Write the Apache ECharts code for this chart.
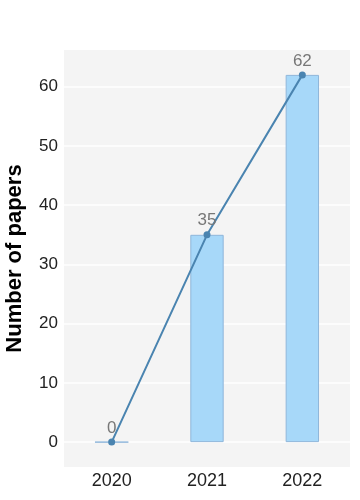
<!DOCTYPE html>
<html><head><meta charset="utf-8">
<script src="https://cdn.jsdelivr.net/npm/echarts@6/dist/echarts.min.js"></script>
<style>html,body{margin:0;padding:0;background:#fff}#c{width:360px;height:500px}</style>
</head><body><div id="c"></div>
<script>
const categories = ['2020', '2021', '2022'];
const papers = [0, 35, 62];
const yTicks = [0, 10, 20, 30, 40, 50, 60];

const chart = echarts.init(document.getElementById('c'));
chart.setOption({
  animation: false,
  textStyle: { fontFamily: 'Liberation Sans, Arial, sans-serif' },
  grid: { left: 64, right: 10, top: 50, bottom: 33, show: true, backgroundColor: '#f4f4f4', borderWidth: 0, outerBoundsMode: 'none', containLabel: false },
  xAxis: {
    type: 'category', data: categories,
    axisLine: { show: false }, axisTick: { show: false },
    axisLabel: { fontSize: 18, color: '#222', margin: 5 }
  },
  yAxis: {
    type: 'value', min: -4.2, max: 66.2,
    name: 'Number of papers', nameLocation: 'middle', nameGap: 38,
    nameTextStyle: { fontSize: 22, fontWeight: 'bold', color: '#000' },
    axisLine: { show: false },
    axisTick: { show: false, customValues: yTicks },
    axisLabel: { fontSize: 17, color: '#222', margin: 6, customValues: yTicks },
    splitLine: { show: true, lineStyle: { color: '#ffffff', width: 1.5 } }
  },
  series: [
    {
      type: 'bar', data: papers, barWidth: '35%',
      itemStyle: { color: '#a7d8f9', borderColor: '#8fb6da', borderWidth: 1 }
    },
    {
      type: 'line', data: papers, symbol: 'circle', symbolSize: 7,
      lineStyle: { color: '#4a84b0', width: 2 },
      itemStyle: { color: '#4a84b0' },
      label: { show: true, position: 'top', fontSize: 17, color: '#777', distance: 2 }
    }
  ]
});
</script></body></html>
